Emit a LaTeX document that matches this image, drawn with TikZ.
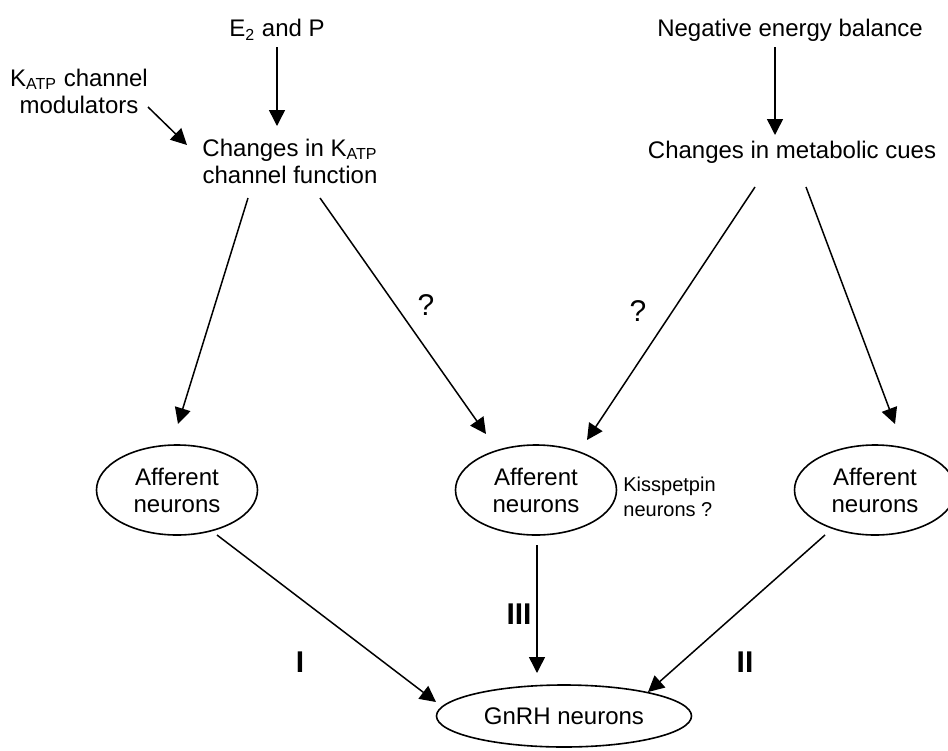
\documentclass[tikz,border=0pt]{standalone}
\usepackage{fontspec}
\setmainfont{Liberation Sans}
\usepackage{tikz}
\usetikzlibrary{arrows.meta}
\usetikzlibrary{shapes}
\usetikzlibrary{calc}
\tikzstyle{neuron}=[draw,ellipse,line width=0.8pt,inner sep=0pt,minimum width=80.5pt,minimum height=45pt,align=center,font=\fontsize{12}{13.5}\selectfont]
\tikzstyle{cue}=[align=center,font=\fontsize{12}{13.5}\selectfont]

\begin{document}
\begin{tikzpicture}[x=0.5pt,y=-0.5pt,>={Triangle[length=8pt,width=8pt]}]
	\tikzstyle{arr}=[->,line width=0.75pt]
	\tikzstyle{roman}=[font=\fontsize{15}{17}\selectfont\bfseries]
	\tikzstyle{query}=[font=\fontsize{15}{17}\selectfont]
	\useasboundingbox (0,0) rectangle (948,750);
	% inputs
	\node [cue] (e2) at (277,30) {E\textsubscript{2} and P};
	\node [cue] (kmod) at (79,91) {K\textsubscript{ATP} channel\\modulators};
	\node [cue] (chk) at (290,161) {Changes in K\textsubscript{ATP}\\channel function};
	\node [cue] (neb) at (790,30) {Negative energy balance};
	\node [cue] (chm) at (792,152) {Changes in metabolic cues};
	% neurons
	\node [neuron] (aff1) at (177,490) {Afferent\\neurons};
	\node [neuron] (aff2) at (536,490) {Afferent\\neurons};
	\node [neuron] (aff3) at (875,490) {Afferent\\neurons};
	\node [neuron,minimum width=127.5pt,minimum height=31pt] (gnrh) at (564,716) {GnRH neurons};
	\node [anchor=west,align=left,inner sep=0pt,font=\fontsize{10}{12.5}\selectfont] (kiss) at (623,497) {Kisspetpin\\neurons ?};
	\node [query] (q1) at (426,305) {?};
	\node [query] (q2) at (638,311) {?};
	\node [roman] (r1) at (300,662) {I};
	\node [roman] (r3) at (519,614) {III};
	\node [roman] (r2) at (745,662) {II};
	% connectors
	\draw [arr] ($(e2)+(0,17)$) -- ($(chk)+(-13,-35)$);
	\draw [arr] ($(neb)+(-15,17)$) -- ($(chm)+(-17,-17)$);
	\draw [arr] ($(kmod)+(69,16)$) -- ($(chk)+(-103,-16)$);
	\draw [arr] ($(chk)+(-42,37)$) -- ($(aff1)+(1,-66)$);
	\draw [arr] ($(chk)+(30,37)$) -- ($(aff2)+(-50,-56)$);
	\draw [arr] ($(chm)+(-37,35)$) -- ($(aff2)+(51,-50)$);
	\draw [arr] ($(chm)+(14,35)$) -- ($(aff3)+(20,-66)$);
	\draw [arr] ($(aff1)+(40,45)$) -- ($(gnrh)+(-128,-14)$);
	\draw [arr] ($(aff2)+(1,55)$) -- ($(gnrh)+(-27,-43)$);
	\draw [arr] ($(aff3)+(-50,45)$) -- ($(gnrh)+(84,-24)$);
\end{tikzpicture}
\end{document}
